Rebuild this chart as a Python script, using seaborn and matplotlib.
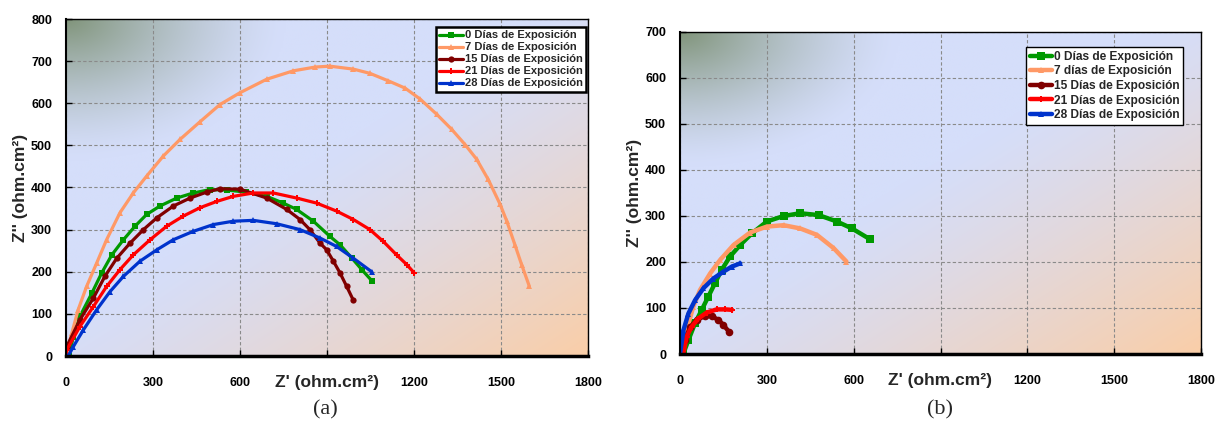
import numpy as np
import pandas as pd
import matplotlib
matplotlib.use("Agg")
import matplotlib.pyplot as plt
import seaborn as sns

# ---------------- data ----------------
# Panel (a)
a0_x = [10, 25, 48, 89, 123, 158, 198, 238, 278, 324, 382, 439, 497, 554, 620, 692, 749, 795, 853, 910, 945, 985, 1020, 1054]
a0_y = [0, 45, 94, 149, 197, 240, 276, 308, 336, 356, 375, 387, 395, 394, 389, 379, 363, 348, 320, 284, 264, 233, 205, 179]

a7_x = [0, 20, 42, 71, 106, 140, 186, 232, 278, 336, 393, 462, 531, 600, 692, 784, 860, 910, 991, 1048, 1112, 1169, 1221, 1278, 1330, 1376, 1416, 1456, 1497, 1520, 1548, 1571, 1598]
a7_y = [0, 54, 110, 165, 221, 276, 340, 387, 427, 475, 514, 556, 597, 625, 657, 677, 686, 688, 681, 671, 653, 636, 610, 574, 538, 502, 467, 419, 360, 320, 264, 217, 165]

a15_x = [0, 2, 48, 94, 134, 175, 221, 267, 313, 370, 428, 485, 531, 600, 692, 761, 807, 841, 876, 899, 922, 945, 968, 991]
a15_y = [0, 22, 86, 137, 189, 232, 268, 300, 328, 356, 375, 389, 397, 396, 375, 348, 324, 300, 268, 252, 225, 197, 165, 132]

a21_x = [0, 2, 48, 94, 140, 186, 232, 290, 347, 404, 462, 520, 577, 646, 715, 795, 864, 933, 991, 1048, 1094, 1140, 1175, 1201]
a21_y = [0, 14, 70, 117, 165, 205, 240, 276, 308, 332, 352, 367, 379, 387, 387, 375, 363, 344, 324, 300, 272, 240, 217, 197]

a28_x = [8, 25, 60, 106, 152, 198, 255, 313, 370, 439, 508, 577, 646, 726, 807, 876, 933, 991, 1054]
a28_y = [0, 22, 62, 110, 153, 189, 225, 252, 276, 296, 312, 320, 322, 314, 300, 280, 260, 232, 200]

# Panel (b)
b0_x = [11, 29, 52, 75, 98, 121, 144, 173, 208, 248, 300, 358, 415, 479, 542, 594, 655]
b0_y = [0, 30, 67, 96, 125, 154, 183, 212, 237, 262, 288, 300, 306, 302, 288, 273, 250]

b7_x = [0, 23, 46, 69, 104, 138, 185, 242, 300, 358, 415, 473, 531, 575]
b7_y = [2, 52, 103, 139, 175, 204, 237, 264, 277, 280, 273, 259, 230, 201]

b15_x = [6, 17, 35, 58, 87, 110, 133, 150, 171]
b15_y = [0, 30, 59, 74, 83, 82, 74, 63, 47]

b21_x = [11, 23, 40, 63, 92, 127, 156, 179]
b21_y = [0, 38, 59, 77, 90, 97, 97, 96]

b28_x = [0, 12, 29, 52, 81, 115, 150, 179, 208]
b28_y = [0, 52, 88, 117, 143, 164, 179, 190, 197]

labels_a = ["0 Días de Exposición", "7 Días de Exposición", "15 Días de Exposición",
            "21 Días de Exposición", "28 Días de Exposición"]
labels_b = ["0 Días de Exposición", "7 días de Exposición", "15 Días de Exposición",
            "21 Días de Exposición", "28 Días de Exposición"]
xticks = [0, 300, 600, 900, 1200, 1500, 1800]
# the 900 label is hidden behind the axis title in the reference
xtick_labels = ["0", "300", "600", "", "1200", "1500", "1800"]
yticks_a = [0, 100, 200, 300, 400, 500, 600, 700, 800]
yticks_b = [0, 100, 200, 300, 400, 500, 600, 700]

colors = ["#009900", "#FF9966", "#800000", "#FF0000", "#0033CC"]
markers = ["s", "^", "o", "P", "^"]

# ---------------- style ----------------
sns.set_theme(style="white")
plt.rcParams["font.family"] = ["Liberation Sans", "DejaVu Sans"]
plt.rcParams["font.weight"] = "bold"

fig = plt.figure(figsize=(12.19, 4.44), dpi=100)
fig.patch.set_facecolor("white")

ax_a = fig.add_axes([66/1219, (444-356)/444, (588-66)/1219, (356-19)/444])
ax_b = fig.add_axes([680/1219, (444-354)/444, (1201-680)/1219, (354-32)/444])


def background(ax):
    n = 300
    u = np.linspace(0, 1, n)[None, :].repeat(n, 0)
    v = np.linspace(1, 0, n)[:, None].repeat(n, 1)
    blue = np.array([213, 222, 250]) / 255.0
    peach = np.array([250, 206, 168]) / 255.0
    sage = np.array([128, 148, 122]) / 255.0
    w_br = np.clip((u + (1 - v)) - 0.9, 0, 1.1) / 1.1
    w_br = w_br ** 1.2
    d_tl = np.sqrt(u ** 2 + (1 - v) ** 2)
    w_tl = np.clip(1 - d_tl / 0.42, 0, 1) ** 1.4
    img = blue[None, None, :] * (1 - w_br[..., None]) + peach[None, None, :] * w_br[..., None]
    img = img * (1 - w_tl[..., None]) + sage[None, None, :] * w_tl[..., None]
    ax.imshow(img, extent=(0, 1, 0, 1), transform=ax.transAxes, aspect="auto",
              zorder=-5, interpolation="bilinear")


def style_axes(ax, yticks, ymax):
    background(ax)
    ax.set_xlim(0, 1800)
    ax.set_ylim(0, ymax)
    ax.set_xticks(xticks)
    ax.set_yticks(yticks)
    ax.set_xticklabels(xtick_labels, fontsize=9, fontweight="bold")
    ax.set_yticklabels([str(t) for t in yticks], fontsize=9, fontweight="bold")
    ax.tick_params(axis="x", direction="in", length=4, width=1, pad=15, bottom=True, colors="black")
    ax.tick_params(axis="y", direction="in", length=4, width=1, pad=10, left=True, colors="black")
    ax.set_axisbelow(True)
    ax.grid(True, color="#8a8a8a", linestyle=(0, (3, 2)), linewidth=0.8)
    for s in ["top", "right"]:
        ax.spines[s].set_visible(True)
        ax.spines[s].set_color("black")
        ax.spines[s].set_linewidth(1.0)
    ax.spines["left"].set_color("black")
    ax.spines["left"].set_linewidth(1.5)
    ax.spines["bottom"].set_color("black")
    ax.spines["bottom"].set_linewidth(2.5)
    ax.set_xlabel("Z' (ohm.cm²)", fontsize=12.5, fontweight="bold", labelpad=-10)
    ax.set_ylabel("Z'' (ohm.cm²)", fontsize=12.5, fontweight="bold", labelpad=2)


series_a = [(a0_x, a0_y), (a7_x, a7_y), (a15_x, a15_y), (a21_x, a21_y), (a28_x, a28_y)]
series_b = [(b0_x, b0_y), (b7_x, b7_y), (b15_x, b15_y), (b21_x, b21_y), (b28_x, b28_y)]

msize_a = [4.5, 4, 4.5, 4, 4]
for (xs, ys), lab, c, m, ms in zip(series_a, labels_a, colors, markers, msize_a):
    df = pd.DataFrame({"x": xs, "y": ys})
    sns.lineplot(data=df, x="x", y="y", ax=ax_a, sort=False, estimator=None, color=c,
                 marker=m, markersize=ms, markeredgewidth=0, linewidth=2.3, label=lab,
                 clip_on=True)

msize_b = [6, 5, 5.5, 5, 5]
for (xs, ys), lab, c, m, ms in zip(series_b, labels_b, colors, markers, msize_b):
    df = pd.DataFrame({"x": xs, "y": ys})
    sns.lineplot(data=df, x="x", y="y", ax=ax_b, sort=False, estimator=None, color=c,
                 marker=m, markersize=ms, markeredgewidth=0, linewidth=3.2, label=lab,
                 clip_on=True)

style_axes(ax_a, yticks_a, 800)
style_axes(ax_b, yticks_b, 700)

leg_a = ax_a.legend(loc="upper right", bbox_to_anchor=(0.996, 0.976), frameon=True,
                    fancybox=False, edgecolor="black", framealpha=1, facecolor="white",
                    prop={"weight": "bold", "size": 8.0}, handlelength=2.2,
                    handletextpad=0.1, labelspacing=0.18, borderpad=0.3, borderaxespad=0)
leg_a.get_frame().set_linewidth(1.8)

leg_b = ax_b.legend(loc="upper right", bbox_to_anchor=(0.965, 0.953), frameon=True,
                    fancybox=False, edgecolor="black", framealpha=1, facecolor="white",
                    prop={"weight": "bold", "size": 8.6}, handlelength=1.9,
                    handletextpad=0.1, labelspacing=0.22, borderpad=0.3, borderaxespad=0)
leg_b.get_frame().set_linewidth(1.0)

fig.text(325/1219, 1 - 410/444, "(a)", family=["Liberation Serif", "DejaVu Serif"],
         fontsize=16, fontweight="normal", ha="center", va="center")
fig.text(940/1219, 1 - 410/444, "(b)", family=["Liberation Serif", "DejaVu Serif"],
         fontsize=16, fontweight="normal", ha="center", va="center")

fig.savefig("out.png", dpi=100, facecolor="white")
